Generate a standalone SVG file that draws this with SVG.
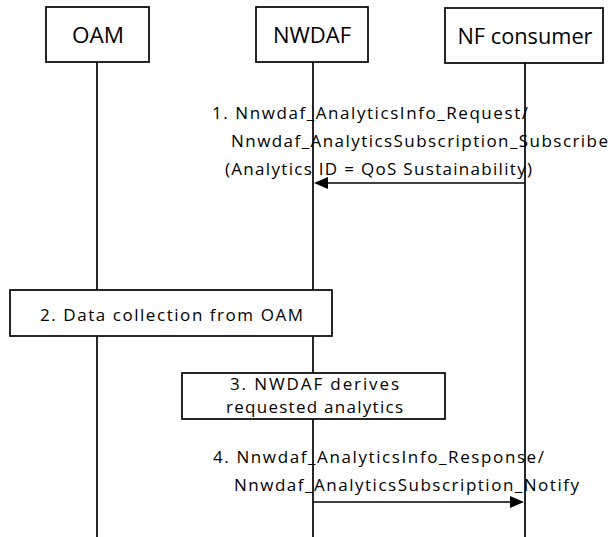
<svg xmlns="http://www.w3.org/2000/svg" width="611" height="537" viewBox="0 0 611 537">
  <style>
    .box { fill: #ffffff; stroke: #000000; stroke-width: 1.7; }
    .life { stroke: #000000; stroke-width: 1.7; fill: none; }
    .msg { stroke: #000000; stroke-width: 1.7; fill: none; }
    .hdr { font-family: "Open Sans", "Liberation Sans", Arial, sans-serif; font-size: 22px; fill: #000000; text-anchor: middle; }
    .lbl { font-family: "Open Sans", "Liberation Sans", Arial, sans-serif; font-size: 17px; fill: #000000; }
  </style>
  <defs>
    <marker id="arrow" markerUnits="userSpaceOnUse" markerWidth="14" markerHeight="12" refX="10" refY="6" orient="auto">
      <path d="M0,0 L14,6 L0,12 Z" fill="#000000"/>
    </marker>
  </defs>
  <rect x="0" y="0" width="611" height="537" fill="#ffffff"/>

  <g id="lifelines">
    <line class="life" x1="97" y1="62" x2="97" y2="537"/>
    <line class="life" x1="313" y1="62" x2="313" y2="537"/>
    <line class="life" x1="525" y1="63" x2="525" y2="537"/>
  </g>

  <g id="node-oam">
    <rect class="box" x="46" y="7" width="103" height="55"/>
    <text class="hdr" x="98" y="43" textLength="52" lengthAdjust="spacingAndGlyphs">OAM</text>
  </g>
  <g id="node-nwdaf">
    <rect class="box" x="256" y="7" width="112" height="55"/>
    <text class="hdr" x="312" y="43" textLength="78" lengthAdjust="spacingAndGlyphs">NWDAF</text>
  </g>
  <g id="node-nf-consumer">
    <rect class="box" x="445" y="8" width="158" height="55"/>
    <text class="hdr" x="525" y="44" textLength="135" lengthAdjust="spacingAndGlyphs">NF consumer</text>
  </g>

  <g id="step2-data-collection">
    <rect class="box" x="10" y="290" width="322" height="46"/>
    <text class="lbl" x="40" y="321" textLength="263" lengthAdjust="spacing">2. Data collection from OAM</text>
  </g>

  <g id="step3-derive-analytics">
    <rect class="box" x="182" y="373" width="263" height="46"/>
    <text class="lbl" x="230" y="390" textLength="169" lengthAdjust="spacing">3. NWDAF derives</text>
    <text class="lbl" x="226" y="413" textLength="177" lengthAdjust="spacing">requested analytics</text>
  </g>

  <g id="connectors">
    <line class="msg" x1="525" y1="183" x2="318" y2="183" marker-end="url(#arrow)"/>
    <text class="lbl" x="212" y="119" textLength="316" lengthAdjust="spacing">1. Nnwdaf_AnalyticsInfo_Request/</text>
    <text class="lbl" x="231" y="147" textLength="377" lengthAdjust="spacing">Nnwdaf_AnalyticsSubscription_Subscribe</text>
    <text class="lbl" x="225" y="175" textLength="307" lengthAdjust="spacing">(Analytics ID = QoS Sustainability)</text>

    <line class="msg" x1="313" y1="502" x2="520" y2="502" marker-end="url(#arrow)"/>
    <text class="lbl" x="213" y="463" textLength="331" lengthAdjust="spacing">4. Nnwdaf_AnalyticsInfo_Response/</text>
    <text class="lbl" x="234" y="491" textLength="345" lengthAdjust="spacing">Nnwdaf_AnalyticsSubscription_Notify</text>
  </g>
</svg>
